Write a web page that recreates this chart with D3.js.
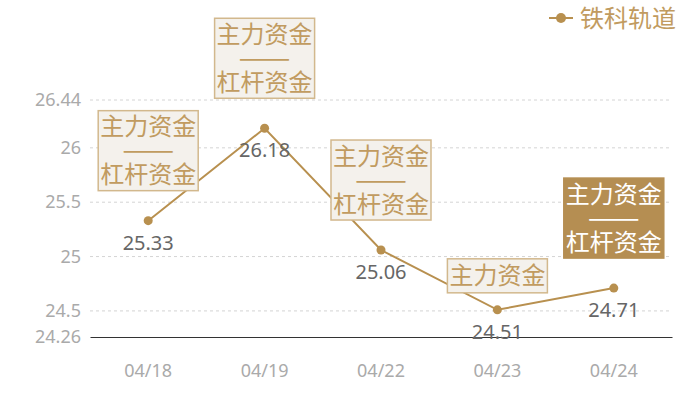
<!DOCTYPE html>
<html>
<head>
<meta charset="utf-8">
<script src="https://cdn.jsdelivr.net/npm/d3@7"></script>
<style>
  html, body { margin: 0; padding: 0; background: #fff; }
  svg { display: block; font-family: "Noto Sans CJK SC", "Noto Sans", sans-serif; }
</style>
</head>
<body>
<svg id="chart" width="700" height="400"></svg>
<script>
// chart data
const dates = ['04/18', '04/19', '04/22', '04/23', '04/24'];
const prices = [25.33, 26.18, 25.06, 24.51, 24.71];
const notes = [
  ['主力资金', '杠杆资金'],
  ['主力资金', '杠杆资金'],
  ['主力资金', '杠杆资金'],
  ['主力资金'],
  ['主力资金', '杠杆资金']
];
const highlighted = [false, false, false, false, true];
const yTicks = [24.26, 24.5, 25, 25.5, 26, 26.44];
const seriesName = '铁科轨道';

const GOLD = '#b8904f';
const NOTE_TEXT = '#c19b60';

const svg = d3.select('#chart');
const plotLeft = 90, plotRight = 672, plotTop = 100, plotBottom = 337;

const x = d3.scaleBand().domain(dates).range([plotLeft, plotRight]);
const y = d3.scaleLinear().domain([24.26, 26.44]).range([plotBottom, plotTop]);
const cx = d => x(d) + x.bandwidth() / 2;

const rows = dates.map((d, i) => ({ date: d, value: prices[i], note: notes[i], hi: highlighted[i] }));

// gridlines
svg.append('g')
  .selectAll('line')
  .data(yTicks.slice(1))
  .join('line')
  .attr('x1', plotLeft).attr('x2', plotRight)
  .attr('y1', d => y(d)).attr('y2', d => y(d))
  .attr('stroke', '#d4d4d4')
  .attr('stroke-dasharray', '3,3');

// y axis labels
const yAxis = svg.append('g')
  .attr('transform', `translate(${plotLeft},0)`)
  .call(d3.axisLeft(y).tickValues(yTicks).tickSize(0).tickPadding(9).tickFormat(d => String(d)));
yAxis.select('.domain').remove();
yAxis.selectAll('text').attr('fill', '#aaaaaa').attr('font-size', 18).attr('font-family', '"Noto Sans", sans-serif');

// x axis
const xAxis = svg.append('g')
  .attr('transform', `translate(0,${plotBottom})`)
  .call(d3.axisBottom(x).tickSize(0).tickPadding(27));
xAxis.select('.domain').attr('stroke', '#333').attr('stroke-width', 1.2);
xAxis.selectAll('text').attr('fill', '#aaaaaa').attr('font-size', 18).attr('font-family', '"Noto Sans", sans-serif');

// line
const line = d3.line().x(d => cx(d.date)).y(d => y(d.value));
svg.append('path')
  .datum(rows)
  .attr('d', line)
  .attr('fill', 'none')
  .attr('stroke', GOLD)
  .attr('stroke-width', 2);

// points
svg.append('g')
  .selectAll('circle')
  .data(rows)
  .join('circle')
  .attr('cx', d => cx(d.date))
  .attr('cy', d => y(d.value))
  .attr('r', 4.5)
  .attr('fill', GOLD);

// value labels
svg.append('g')
  .selectAll('text')
  .data(rows)
  .join('text')
  .attr('x', d => cx(d.date))
  .attr('y', d => y(d.value) + 22)
  .attr('dy', '0.35em')
  .attr('text-anchor', 'middle')
  .attr('font-size', 20)
  .attr('font-family', '"Noto Sans", sans-serif')
  .attr('fill', '#666')
  .text(d => d.value.toFixed(2));

// annotation boxes
const boxW = 100, lineH = 24, fs = 24;
const notesG = svg.append('g');
rows.forEach(d => {
  const two = d.note.length > 1;
  const h = two ? 80 : 34;
  const gap = two ? 30 : 17;
  const bx = cx(d.date) - boxW / 2;
  const by = y(d.value) - gap - h;
  const g = notesG.append('g');
  g.append('rect')
    .attr('x', bx).attr('y', by)
    .attr('width', boxW).attr('height', h)
    .attr('fill', d.hi ? '#b58e52' : '#f4f1ec')
    .attr('stroke', d.hi ? '#b58e52' : '#d2b88d')
    .attr('stroke-width', 1.5);
  const color = d.hi ? '#ffffff' : NOTE_TEXT;
  const mid = cx(d.date);
  if (two) {
    const cy = by + h / 2;
    g.append('text').attr('x', mid).attr('y', cy - lineH).attr('dy', '0.36em')
      .attr('text-anchor', 'middle').attr('font-size', fs).attr('fill', color).text(d.note[0]);
    g.append('text').attr('x', mid).attr('y', cy).attr('dy', '0.36em')
      .attr('text-anchor', 'middle').attr('font-size', 18).attr('font-weight', 'bold').attr('fill', color)
      .attr('textLength', 52).attr('lengthAdjust', 'spacingAndGlyphs').text('——');
    g.append('text').attr('x', mid).attr('y', cy + lineH).attr('dy', '0.36em')
      .attr('text-anchor', 'middle').attr('font-size', fs).attr('fill', color).text(d.note[1]);
  } else {
    g.append('text').attr('x', mid).attr('y', by + h / 2).attr('dy', '0.36em')
      .attr('text-anchor', 'middle').attr('font-size', fs).attr('fill', color).text(d.note[0]);
  }
});

// legend
const legend = svg.append('g').attr('transform', 'translate(549,18)');
legend.append('line').attr('x1', 0).attr('x2', 24).attr('y1', 0).attr('y2', 0)
  .attr('stroke', GOLD).attr('stroke-width', 2);
legend.append('circle').attr('cx', 12).attr('cy', 0).attr('r', 5).attr('fill', GOLD);
legend.append('text').attr('x', 31).attr('y', 0).attr('dy', '0.36em')
  .attr('font-size', 24).attr('fill', NOTE_TEXT).text(seriesName);
</script>
</body>
</html>
